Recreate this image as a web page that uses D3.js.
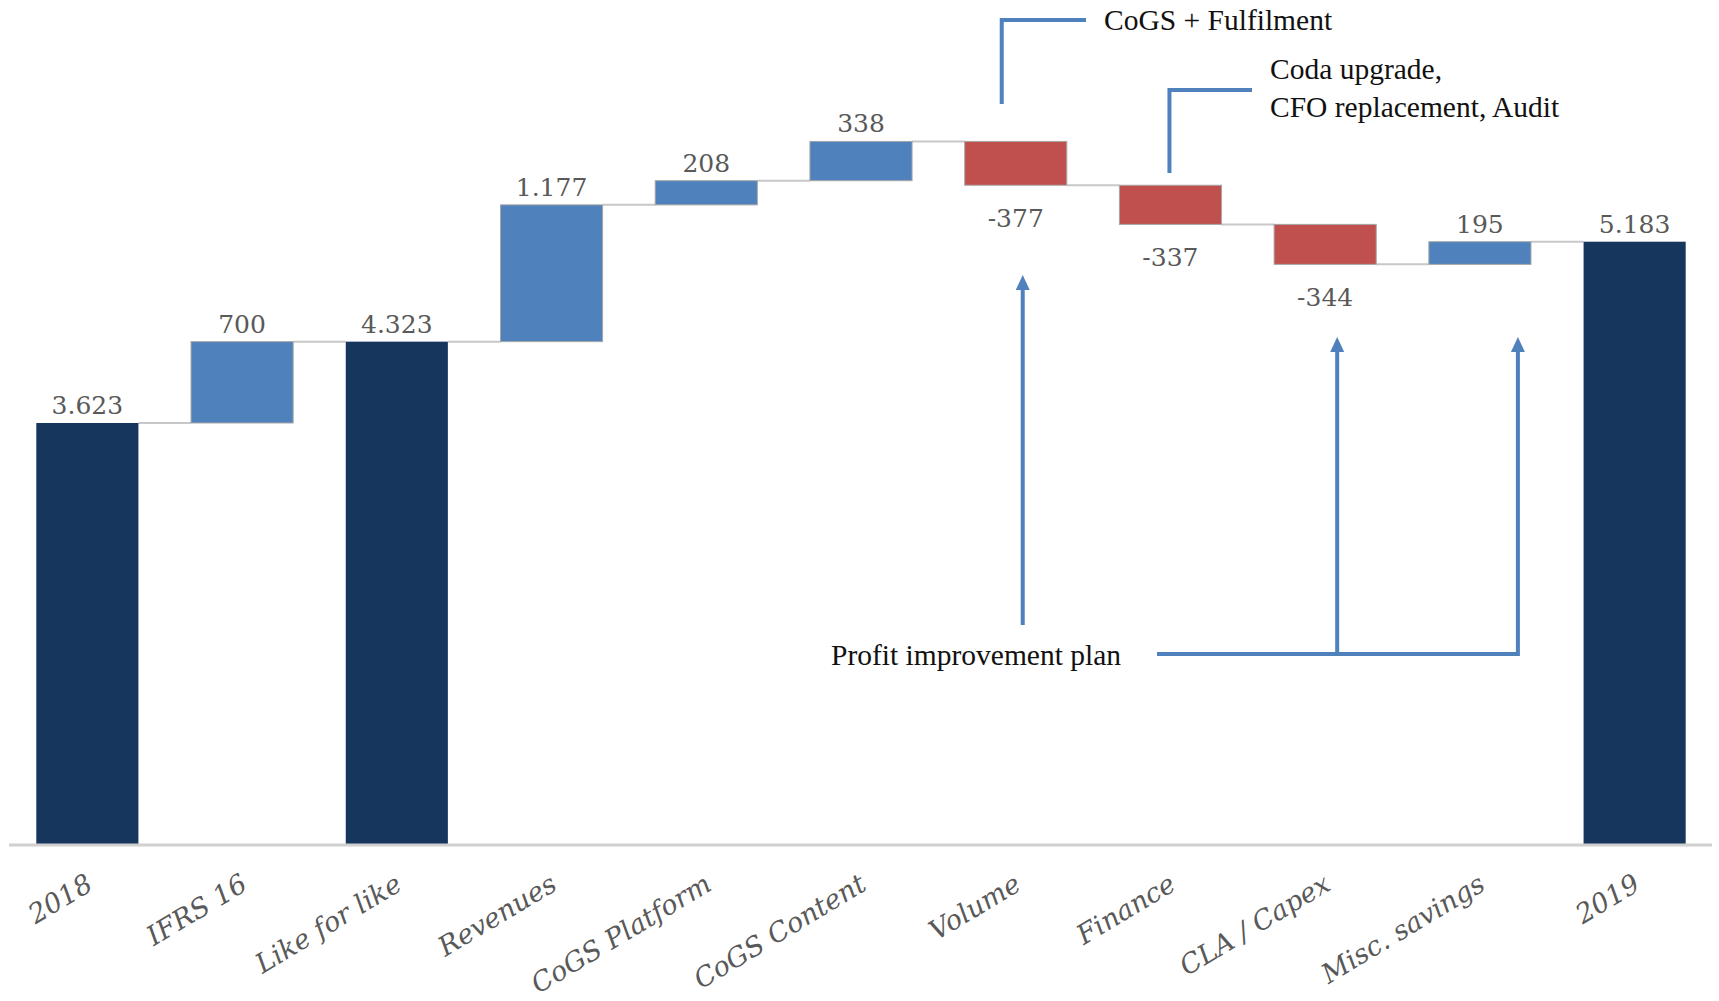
<!DOCTYPE html>
<html>
<head>
<meta charset="utf-8">
<script src="https://cdn.jsdelivr.net/npm/d3@7"></script>
<style>
  body { margin: 0; background: #fff; }
  svg { display: block; }
</style>
</head>
<body>
<div id="chart"></div>
<script>
const categories = ["2018", "IFRS 16", "Like for like", "Revenues", "CoGS Platform", "CoGS Content",
                    "Volume", "Finance", "CLA / Capex", "Misc. savings", "2019"];
const values = [3623, 700, 4323, 1177, 208, 338, -377, -337, -344, 195, 5183];
const isTotal = [true, false, true, false, false, false, false, false, false, false, true];

const width = 1719, height = 1001;
const baseY = 844;

const svg = d3.select("#chart").append("svg")
    .attr("width", width)
    .attr("height", height);

// running totals for the waterfall
let run = 0;
const rows = categories.map((c, i) => {
    let start, end;
    if (isTotal[i]) { start = 0; end = values[i]; run = values[i]; }
    else { start = run; end = run + values[i]; run = end; }
    return { cat: c, value: values[i], start, end, total: isTotal[i] };
});

const x = d3.scaleBand()
    .domain(categories)
    .range([10, 1712])
    .paddingInner(0.34)
    .paddingOuter(0.17);

const y = d3.scaleLinear()
    .domain([0, 7263])
    .range([baseY, 0]);

const fmt = d3.formatLocale({ decimal: ",", thousands: ".", grouping: [3], currency: ["", ""], minus: "-" }).format(",d");

const navy = "#17365d", blue = "#4f81bd", red = "#c0504d";

// connectors
svg.append("g")
    .selectAll("line")
    .data(rows.slice(0, -1))
    .join("line")
    .attr("x1", d => x(d.cat) + x.bandwidth())
    .attr("x2", (d, i) => x(rows[i + 1].cat))
    .attr("y1", d => y(d.end))
    .attr("y2", d => y(d.end))
    .attr("stroke", "#c8c8c8")
    .attr("stroke-width", 2);

// bars
svg.append("g")
    .selectAll("rect")
    .data(rows)
    .join("rect")
    .attr("x", d => x(d.cat))
    .attr("width", x.bandwidth())
    .attr("y", d => y(Math.max(d.start, d.end)))
    .attr("height", d => Math.abs(y(d.start) - y(d.end)))
    .attr("fill", d => d.total ? navy : (d.value >= 0 ? blue : red))
    .attr("stroke", d => d.total ? "none" : "#a6a6a6")
    .attr("stroke-width", 1);

// axis line
svg.append("line")
    .attr("x1", 9).attr("x2", 1712)
    .attr("y1", baseY + 1).attr("y2", baseY + 1)
    .attr("stroke", "#d0d0d0")
    .attr("stroke-width", 3);

// value labels
svg.append("g")
    .selectAll("text")
    .data(rows)
    .join("text")
    .attr("x", d => x(d.cat) + x.bandwidth() / 2)
    .attr("y", d => d.value >= 0 ? y(d.end) - 9 : y(d.end) + 42)
    .attr("text-anchor", "middle")
    .attr("font-family", "DejaVu Serif, Georgia, serif")
    .attr("font-size", "25px")
    .attr("fill", "#595959")
    .text(d => fmt(d.value));

// category labels
svg.append("g")
    .selectAll("text")
    .data(categories)
    .join("text")
    .attr("text-anchor", "end")
    .attr("transform", d => `translate(${x(d) + x.bandwidth() / 2 + 7}, 889) rotate(-31)`)
    .attr("font-family", "DejaVu Serif, Georgia, serif")
    .attr("font-style", "italic")
    .attr("font-size", "27px")
    .attr("fill", "#595959")
    .text(d => d);

// --- annotations ---
const ann = svg.append("g").attr("stroke", blue).attr("stroke-width", 4).attr("fill", "none");
const cx = c => x(c) + x.bandwidth() / 2;

ann.append("path").attr("d", `M${cx("Volume") - 14},104 V20 H1086`);
ann.append("path").attr("d", `M${cx("Finance") - 1},173 V90 H1252`);

const planY = 654;
ann.append("path").attr("d", `M1157,${planY} H${cx("Misc. savings") + 38} V348`);
ann.append("path").attr("d", `M${cx("CLA / Capex") + 12},${planY} V348`);
ann.append("path").attr("d", `M${cx("Volume") + 7},625 V284`);

const arrows = [cx("Volume") + 7, cx("CLA / Capex") + 12, cx("Misc. savings") + 38];
const tips = [275, 337, 337];
svg.append("g")
    .selectAll("path")
    .data(arrows)
    .join("path")
    .attr("d", (d, i) => `M${d},${tips[i]} l-7,15 h14 z`)
    .attr("fill", blue);

const annText = svg.append("g")
    .attr("font-family", "Liberation Serif, Times New Roman, serif")
    .attr("font-size", "29.5px")
    .attr("fill", "#111");
annText.append("text").attr("x", 1104).attr("y", 30).text("CoGS + Fulfilment");
annText.append("text").attr("x", 1270).attr("y", 79).text("Coda upgrade,");
annText.append("text").attr("x", 1270).attr("y", 117).text("CFO replacement, Audit");
annText.append("text").attr("x", 831).attr("y", 665).text("Profit improvement plan");
</script>
</body>
</html>
